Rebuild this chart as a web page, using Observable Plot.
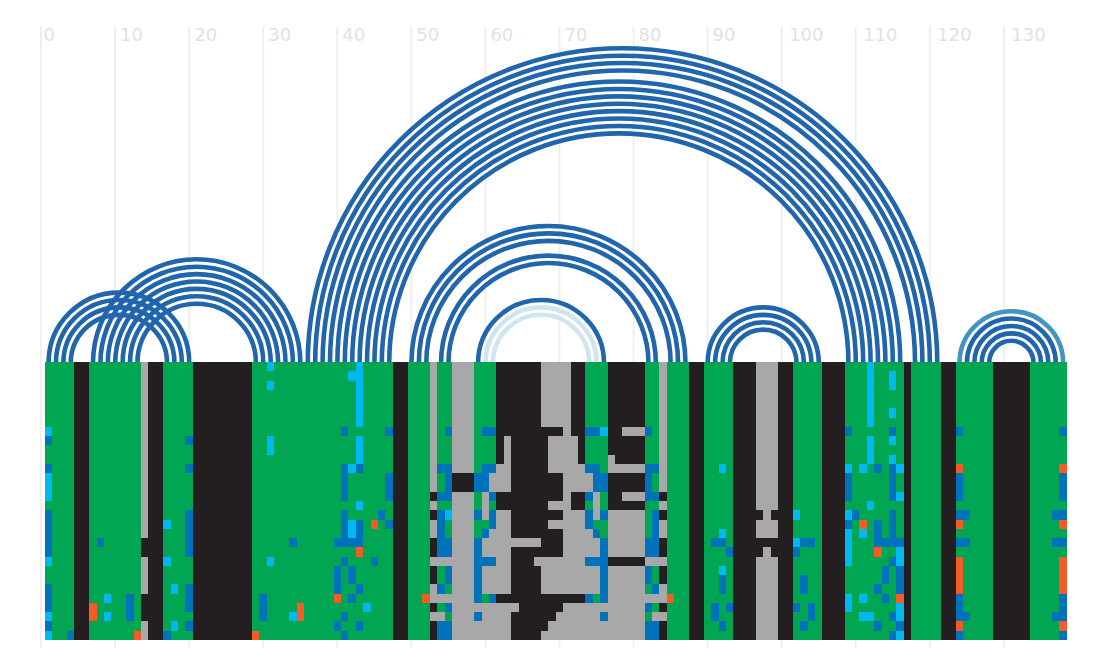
<!DOCTYPE html>
<html>
<head>
<meta charset="utf-8">
<style>html,body{margin:0;padding:0;background:#fff}svg{display:block}</style>
<script src="https://cdn.jsdelivr.net/npm/d3@7"></script>
<script src="https://cdn.jsdelivr.net/npm/@observablehq/plot@0.6"></script>
</head>
<body>
<div id="chart"></div>
<script>
// ---- data ----
const tickValues = [0,10,20,30,40,50,60,70,80,90,100,110,120,130];
const stateCodes = ["G","K","S","B","C","O"];
const stateColors = ["#00a651","#231f20","#a8a8a8","#0072bc","#00b9f2","#f45b25"];
const columnRuns = [["G",4],["K",2],["G",7],["S",1],["K",2],["G",4],["K",8],["G",19],["K",2],["G",3],
  ["S",32],["G",3],["K",2],["G",4],["K",3],["S",3],["K",2],["G",4],["K",3],["G",8],["K",1],["G",4],["K",2],["G",5],["K",5],["G",5]];
const centerStart = 52;
const centerRows = [
"SGGSSSGGGKKKKKKSSSSKKGGGKKKKKGGS",
"SGGSSSGGGKKKKKKSSSSKKGGGKKKKKGGS",
"SGGSSSGGGKKKKKKSSSSKKGGGKKKKKGGS",
"SGGSSSGGGKKKKKKSSSSKKGGGKKKKKGGS",
"SGGSSSGGGKKKKKKSSSSKKGGGKKKKKGGS",
"SGGSSSGGGKKKKKKSSSSKKGGGKKKKKGGS",
"SGGSSSGGGKKKKKKSSSSKKGGGKKKKKGGS",
"SGBSSSGBBKKKKKKKKKSKKBBCKKSSSBGS",
"SGGSSSGGGKSKKKKKSSSSKGGGKKKKKGGS",
"SGGSSSGGGKSKKKKKSSSSKGGGKKKKKGGS",
"SGGSSSGGGKSKKKKKSSSSKGGGSKKKKGGS",
"SBBSSSGBBSSKKKKKSSSSSBBGSSSSSBBS",
"SGBKKKBBSSSKKKKKKKSSSSBBKKKKKBGS",
"SGBKKKBBSSSKKKKKKKSSSSBBKKKKKBGS",
"KBBSSSGSBKKKKKKKKKSKKBSGKKSSSBBK",
"SGGSSSGSGKKKKKKKSSSKKGSGKKKKKGGS",
"KBCSSSBSBSSKKKKKKKSSSBSBSSSSSGBK",
"SBGSSSGGBSSKKKKKSSSSSBGGSSSSSGBS",
"SBGSSSGBSSSKKKKKKKSSSSBGSSSSSGBS",
"KBBSSSBSSSSSSSSKKKSSSSSBSSSSSBBK",
"KBBSSSBSSSSKKKKKKKSSSSSBSSSSSBBK",
"SSSSSSBBBSSKKKSSSSSSSBBBKKKKKSSS",
"KGBSSSBSSSSKKKKSSSSSSSSBSSSSSBGK",
"KGBSSSBSSSSKKKKSSSSSSSSBSSSSSBGK",
"SBGSSSBSSSSKKKKSSSSSSSSBSSSSSGBS",
"SSSSSSBGBKKKKKKKKKKKKBGBSSSSSSSS",
"KGBSSSSSSSSSKKKKKKSSSSSSSSSSSBGK",
"SSGSSSBSSSSKKKKKKSSSSSSBSSSSSGSS",
"KBBSSSSSSSSKKKKKSSSSSSSSSSSSSBBK",
"KBBSSSSSSSSKKKKSSSSSSSSSSSSSSBBK"
];
const lightBluePatches = [[0,[7,12,13,14,21,27,29]],[8,[25,27]],[16,[17,21]],[17,[24,28]],[30,[0,2,8,9,21]],[33,[27]],
  [41,[1,11,17,18]],[42,[0,1,2,3,4,5,6,8,9,10,15]],[43,[26]],[91,[11,18,22]],[101,[16,19]],
  [108,[11,16,18,19,20,21,25,26]],[110,[11,18,25,27]],[111,[0,1,2,3,4,5,6,8,9,10,15,27]],[114,[1,2,5,8,10]],[115,[11,14,20,21,26,27,29]]];
const bluePatches = [[0,[8,11,16,17,18,19,20,24,25,26,28]],[3,[29]],[7,[19]],[11,[25,26,27]],[16,[29]],
  [19,[8,11,16,17,18,19,20,24,25,26,28]],[29,[25,26,27]],[33,[19]],[39,[19,22,23,24,28]],
  [40,[7,11,12,13,14,16,17,18,19,21,27,29]],[41,[19,22,23,25]],[42,[11,17,18,19,24,28]],[44,[21]],[45,[16]],[46,[7,12,13,14,17]],
  [90,[19,26,27]],[91,[19,23,24,28]],[92,[20,26]],[101,[20,26]],[102,[19,23,24,28]],[103,[19,26,27]],
  [108,[7,12,13,14,17]],[109,[16]],[112,[11,17,18,19,24,28]],[113,[19,22,23,25]],[114,[7,11,12,13,14,16,17,18,19,21,27,29]],[115,[19,22,23,24,28]],
  [123,[7,12,13,14,16,19,25,26,27,29]],[124,[16,19,27]],[136,[16,19,27]],[137,[7,12,13,14,16,19,25,26,27,29]]];
const orangePatches = [[6,[26,27]],[12,[29]],[28,[29]],[34,[26,27]],[39,[25]],[42,[20]],[44,[17]],[51,[25]],[84,[25]],
  [110,[17]],[112,[20]],[115,[25]],[123,[11,17,21,22,23,24,28]],[137,[11,17,21,22,23,24,28]]];
const blackPatches = [[13,[19,20,25,26,27]],[96,[16,19,20]],[97,[19]],[98,[16,19,20]]];
const arcLeft  = [0,1,2,3, 6,7,8,9,10,11,12, 35,36,37,38,39,40,41,42,43,44,45,46, 49,50,51,53,54,58,59,60, 89,90,91,92, 123,124,125,126,127];
const arcRight = [19,18,17,16, 34,33,32,31,30,29,28, 120,119,118,117,115,114,113,112,111,110,109,108, 86,85,84,82,81,75,74,73, 104,103,102,101, 137,136,135,134,133];
const arcShade = ["d","d","d","d", "d","d","d","d","d","d","d", "d","d","d","d","d","d","d","d","d","d","d","d", "d","d","d","d","d","d","p","p", "d","d","d","d", "m","d","d","d","d"];
const shadeCodes = ["d","m","p"];
const shadeColors = ["#2166ac","#4393c3","#d1e5f0"];

// ---- table for the cells ----
const rowCount = centerRows.length;
const baseColumns = columnRuns.flatMap(([s,n]) => Array(n).fill(s));
const grid = centerRows.map(row => {
  const r = baseColumns.slice();
  for (let i = 0; i < row.length; i++) r[centerStart + i] = row[i];
  return r;
});
[["C",lightBluePatches],["B",bluePatches],["O",orangePatches],["K",blackPatches]].forEach(([s,list]) =>
  list.forEach(([c,rows]) => rows.forEach(r => { grid[r][c] = s; })));
const cells = grid.flatMap((r,row) => r.map((state,col) => ({col,row,state})));
const arcs = arcLeft.map((a,i) => ({a, b:arcRight[i], shade:arcShade[i]}));

const gridX = d => d - 0.562;
const colorOf = Object.fromEntries(shadeCodes.map((s,i)=>[s,shadeColors[i]]));
const labelShift = d => 2.5 + (String(d).length - 1) * 2.5;
const labelGroups = [1,2,3].map(n => tickValues.filter(d => String(d).length === n));

const chart = Plot.plot({
  width: 1104, height: 672,
  marginLeft: 0, marginRight: 0, marginTop: 0, marginBottom: 0,
  style: {background: "#fff", fontFamily: "'DejaVu Sans'"},
  x: {domain: [0, 138], range: [44.72, 1066.75], axis: null},
  y: {domain: [0, rowCount], range: [362, 640], axis: null},
  color: {domain: stateCodes, range: stateColors},
  marks: [
    Plot.ruleX(tickValues, {x: gridX, y1: -36.2, y2: 30.8, stroke: "#eeeeee", strokeWidth: 1.8}),
    ...labelGroups.map(group => Plot.text(group, {
      x: gridX, y: -35.3, text: d => String(d), dx: labelShift(group[0]),
      textAnchor: "start", fontSize: 18, fill: "#e2e2e2"
    })),
    Plot.arrow(arcs, {
      x1: d => d.a + 0.45, x2: d => d.b + 0.45, y1: () => 0.05, y2: () => 0.05,
      bend: 90, headLength: 0, strokeWidth: 4.6, strokeLinecap: "butt",
      stroke: d => colorOf[d.shade]
    }),
    Plot.rect(cells, {
      x1: "col", x2: d => d.col + 1, y1: "row", y2: d => d.row + 1,
      fill: "state", shapeRendering: "crispEdges"
    })
  ]
});
document.getElementById("chart").appendChild(chart);
</script>
</body>
</html>
